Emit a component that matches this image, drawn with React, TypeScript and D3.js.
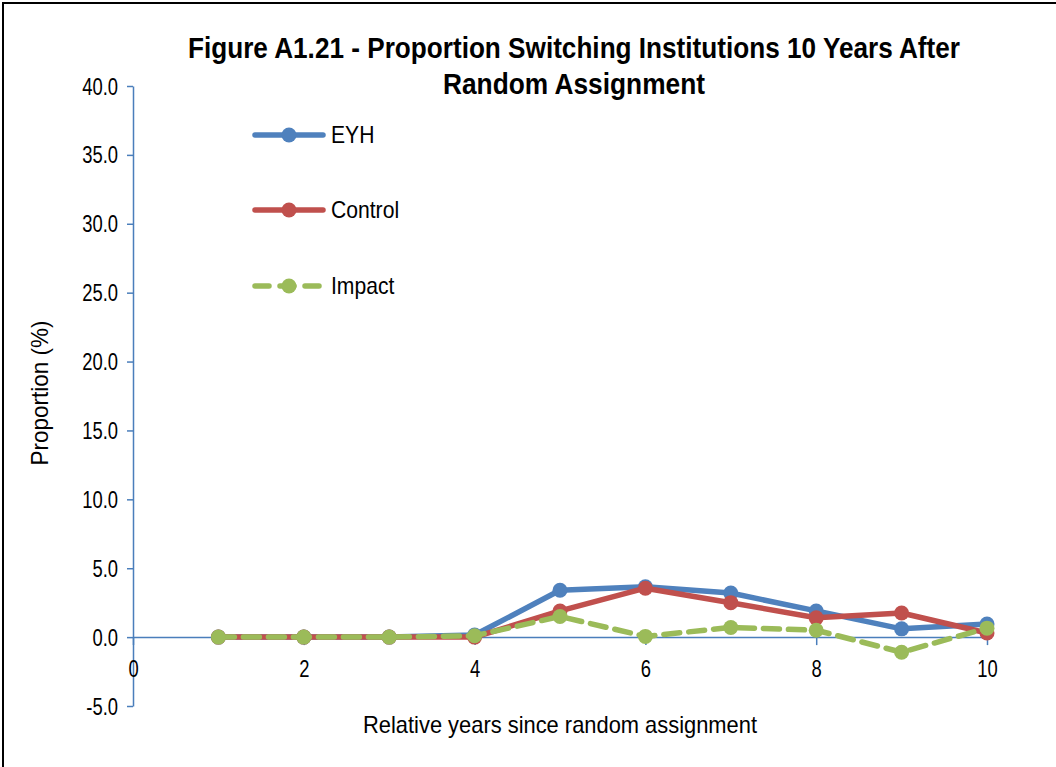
import { useEffect, useRef } from "react";
import * as d3 from "d3";

const years = [1, 2, 3, 4, 5, 6, 7, 8, 9, 10];
const eyhValues = [0, 0, 0, 0.15, 3.4, 3.65, 3.2, 1.9, 0.6, 0.95];
const controlValues = [0, 0, 0, 0, 1.9, 3.55, 2.5, 1.4, 1.75, 0.3];
const impactValues = [0, 0, 0, 0.1, 1.5, 0.05, 0.7, 0.5, -1.1, 0.65];
const xTicks = [0, 2, 4, 6, 8, 10];
const yTicks = [-5, 0, 5, 10, 15, 20, 25, 30, 35, 40];
const seriesNames = ["EYH", "Control", "Impact"];

const WIDTH = 1056;
const HEIGHT = 767;
const FONT = "'Liberation Sans', Arial, sans-serif";

// squeeze text horizontally to mimic a narrow font
function condense(sel: d3.Selection<any, any, any, any>, factor: number) {
  sel.each(function () {
    const el = this as SVGTextElement;
    const len = el.getComputedTextLength();
    d3.select(el)
      .attr("textLength", len * factor)
      .attr("lengthAdjust", "spacingAndGlyphs");
  });
}

export default function App() {
  const svgRef = useRef<SVGSVGElement | null>(null);

  useEffect(() => {
    if (!svgRef.current) return;
    const svg = d3.select(svgRef.current);
    svg.selectAll("*").remove();

    const x = d3.scaleLinear().domain([0, 10]).range([133, 987]);
    const y = d3.scaleLinear().domain([-5, 40]).range([706, 86]);

    // outer frame
    svg.append("rect")
      .attr("x", 3).attr("y", 3)
      .attr("width", WIDTH + 10).attr("height", HEIGHT + 10)
      .attr("fill", "white").attr("stroke", "#000").attr("stroke-width", 2);

    // title
    const t1 = svg.append("text")
      .attr("x", 574).attr("y", 58)
      .attr("text-anchor", "middle")
      .attr("font-family", FONT).attr("font-weight", "bold")
      .attr("font-size", 29).attr("fill", "#000")
      .text("Figure A1.21 - Proportion Switching Institutions 10 Years After");
    t1.attr("textLength", 772).attr("lengthAdjust", "spacingAndGlyphs");
    const t2 = svg.append("text")
      .attr("x", 574).attr("y", 94)
      .attr("text-anchor", "middle")
      .attr("font-family", FONT).attr("font-weight", "bold")
      .attr("font-size", 29).attr("fill", "#000")
      .text("Random Assignment");
    t2.attr("textLength", 262).attr("lengthAdjust", "spacingAndGlyphs");

    const axisColor = "#4a7ebb";

    // y axis
    const yAxis = svg.append("g")
      .attr("transform", `translate(${x(0)},0)`)
      .call(d3.axisLeft(y).tickValues(yTicks).tickSize(6).tickSizeOuter(0)
        .tickFormat((v) => d3.format(".1f")(Number(v)).replace("−", "-")));
    yAxis.select(".domain").attr("stroke", axisColor).attr("stroke-width", 1.5);
    yAxis.selectAll(".tick line").attr("stroke", axisColor).attr("stroke-width", 1.5);
    const yLabels = yAxis.selectAll("text")
      .attr("font-family", FONT).attr("font-size", 23).attr("fill", "#000")
      .attr("x", -15).attr("dy", "0.35em");
    condense(yLabels, 0.8);

    // x axis at zero
    const xAxis = svg.append("g")
      .attr("transform", `translate(0,${y(0)})`)
      .call(d3.axisBottom(x).tickValues(xTicks).tickSize(8).tickSizeOuter(0));
    xAxis.select(".domain").attr("stroke", axisColor).attr("stroke-width", 1.5);
    xAxis.selectAll(".tick line").attr("stroke", axisColor).attr("stroke-width", 1.5);
    const xLabels = xAxis.selectAll("text")
      .attr("font-family", FONT).attr("font-size", 23).attr("fill", "#000")
      .attr("y", 32).attr("dy", "0.35em");
    condense(xLabels, 0.8);

    // axis titles
    svg.append("text")
      .attr("x", 560).attr("y", 733)
      .attr("text-anchor", "middle")
      .attr("font-family", FONT).attr("font-size", 24).attr("fill", "#000")
      .attr("textLength", 394).attr("lengthAdjust", "spacingAndGlyphs")
      .text("Relative years since random assignment");
    svg.append("text")
      .attr("transform", "translate(48,393) rotate(-90)")
      .attr("text-anchor", "middle")
      .attr("font-family", FONT).attr("font-size", 24).attr("fill", "#000")
      .attr("textLength", 145).attr("lengthAdjust", "spacingAndGlyphs")
      .text("Proportion (%)");

    const series = [
      { name: seriesNames[0], values: eyhValues, color: "#4f81bd", dash: null as string | null },
      { name: seriesNames[1], values: controlValues, color: "#c0504d", dash: null as string | null },
      { name: seriesNames[2], values: impactValues, color: "#9bbb59", dash: "16,9" },
    ];

    const line = d3.line<number>()
      .x((_, i) => x(years[i]))
      .y((d) => y(d));

    series.forEach((s) => {
      const g = svg.append("g");
      g.append("path")
        .attr("d", line(s.values) || "")
        .attr("fill", "none")
        .attr("stroke", s.color)
        .attr("stroke-width", 5.5)
        .attr("stroke-linejoin", "round")
        .attr("stroke-linecap", "round")
        .attr("stroke-dasharray", s.dash);
      g.selectAll("circle")
        .data(s.values)
        .enter()
        .append("circle")
        .attr("cx", (_, i) => x(years[i]))
        .attr("cy", (d) => y(d))
        .attr("r", 7.5)
        .attr("fill", s.color);
    });

    // legend
    const legendY = [135, 210, 286];
    series.forEach((s, i) => {
      const g = svg.append("g").attr("transform", `translate(0,${legendY[i]})`);
      g.append("line")
        .attr("x1", 255).attr("x2", 323).attr("y1", 0).attr("y2", 0)
        .attr("stroke", s.color).attr("stroke-width", 5.5)
        .attr("stroke-linecap", "round")
        .attr("stroke-dasharray", s.dash ? "14,11" : null);
      g.append("circle").attr("cx", 289).attr("cy", 0).attr("r", 7.5).attr("fill", s.color);
      const label = g.append("text")
        .attr("x", 331).attr("y", 0).attr("dy", "0.35em")
        .attr("font-family", FONT).attr("font-size", 24).attr("fill", "#000")
        .text(s.name);
      condense(label, 0.88);
    });
  }, []);

  return (
    <svg
      ref={svgRef}
      width={WIDTH}
      height={HEIGHT}
      style={{ position: "absolute", left: 0, top: 0, display: "block" }}
    />
  );
}
